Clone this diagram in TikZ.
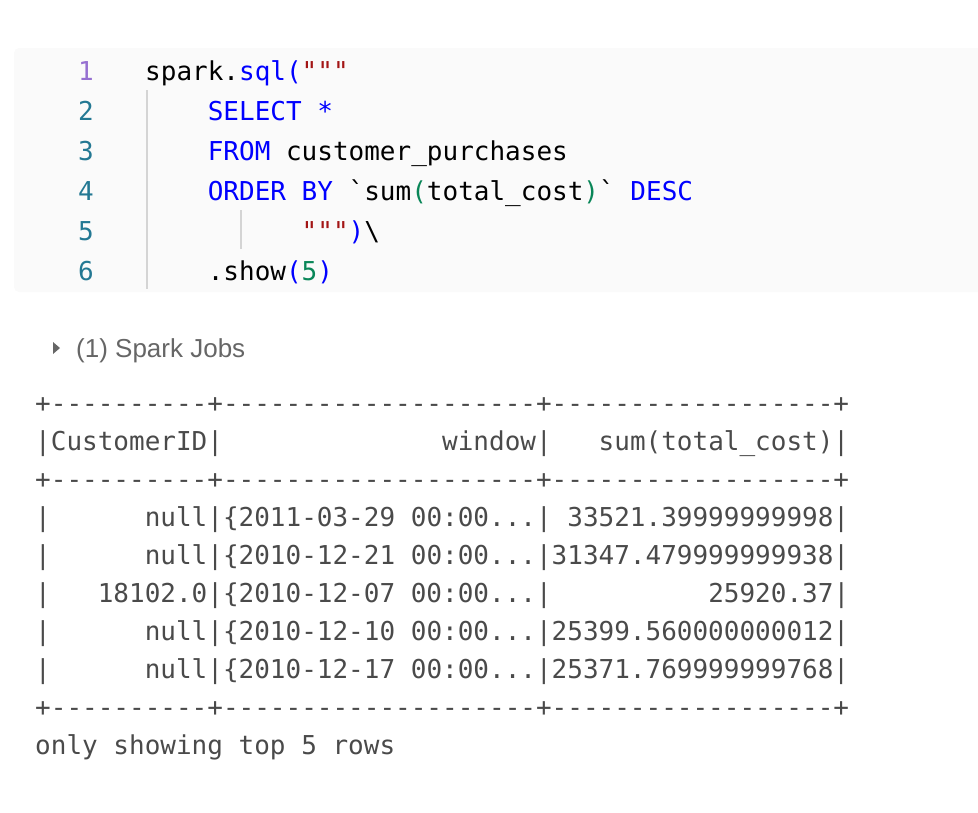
\documentclass[tikz,border=0pt]{standalone}
\usepackage{fontspec}
\usepackage{xcolor}
\usetikzlibrary{positioning}
\setmonofont{DejaVu Sans Mono}
\newfontfamily\jobsfont{Liberation Sans}
\definecolor{kwblue}{HTML}{0000FF}
\definecolor{strred}{HTML}{A31515}
\definecolor{numgreen}{HTML}{098658}
\definecolor{linenum}{HTML}{237893}
\definecolor{curline}{HTML}{9670D1}
\definecolor{outgray}{HTML}{4A4A4A}
\definecolor{jobsgray}{HTML}{666666}
\definecolor{cellbg}{HTML}{FAFAFA}
\definecolor{guidegray}{HTML}{D4D4D4}
\newcommand{\mono}{\fontsize{26}{40}\ttfamily}
\newcommand{\kw}[1]{\textcolor{kwblue}{#1}}
\newcommand{\str}[1]{\textcolor{strred}{#1}}
\newcommand{\num}[1]{\textcolor{numgreen}{#1}}
\newcommand{\qqq}{\symbol{34}\symbol{34}\symbol{34}}
\newcommand{\cut}{00:00...}

\begin{document}
\begin{tikzpicture}[x=1pt,y=-1pt,
    node distance=40pt,
    codeline/.style={anchor=base west,inner sep=0pt,font=\mono,text=black},
    lineno/.style={anchor=base,inner sep=0pt,font=\mono,text=linenum},
    tabrow/.style={anchor=base west,inner sep=0pt,font=\mono,text=outgray},
    guide/.style={guidegray,line width=1.2pt}]
  \useasboundingbox (0,0) rectangle (978,812);

  % code cell
  \fill[cellbg,rounded corners=5pt] (14,48) rectangle (990,292);
  \foreach \n in {2,...,6}
    \node[lineno] (ln\n) at (86,{40+40*\n}) {\n};
  \node[lineno,text=curline] (ln1) at (86,80) {1};

  \node[codeline] (code1) at (145,80) {spark.\kw{sql(}\str{\qqq}};
  \node[codeline,below=of code1.base west,anchor=base west] (code2) {~~~~\kw{SELECT~*}};
  \node[codeline,below=of code2.base west,anchor=base west] (code3) {~~~~\kw{FROM}~customer\_purchases};
  \node[codeline,below=of code3.base west,anchor=base west] (code4) {~~~~\kw{ORDER~BY}~\symbol{96}sum\num{(}total\_cost\num{)}\symbol{96}~\kw{DESC}};
  \node[codeline,below=of code4.base west,anchor=base west] (code5) {~~~~~~~~~~\str{\qqq}\kw{)}\symbol{92}};
  \node[codeline,below=of code5.base west,anchor=base west] (code6) {~~~~.show\kw{(}\num{5}\kw{)}};
  \draw[guide] (147,90) -- (147,289);
  \draw[guide] (241,210) -- (241,249);

  % output
  \fill[jobsgray] (53,342) -- (60,348) -- (53,354) -- cycle;
  \node[anchor=base west,inner sep=0pt,font=\jobsfont\fontsize{26}{30}\selectfont,text=jobsgray] (jobs) at (76,357) {(1) Spark Jobs};

  \foreach \rowtext [count=\k from 0] in {
      {+----------+--------------------+------------------+},
      {|CustomerID|~~~~~~~~~~~~~~window|~~~sum(total\_cost)|},
      {+----------+--------------------+------------------+},
      {|~~~~~~null|\{2011-03-29~\cut|~33521.39999999998|},
      {|~~~~~~null|\{2010-12-21~\cut|31347.479999999938|},
      {|~~~18102.0|\{2010-12-07~\cut|~~~~~~~~~~25920.37|},
      {|~~~~~~null|\{2010-12-10~\cut|25399.560000000012|},
      {|~~~~~~null|\{2010-12-17~\cut|25371.769999999768|},
      {+----------+--------------------+------------------+},
      {only~showing~top~5~rows}}
    \node[tabrow] (row\k) at (35,{412+38*\k}) {\rowtext};
\end{tikzpicture}
\end{document}
